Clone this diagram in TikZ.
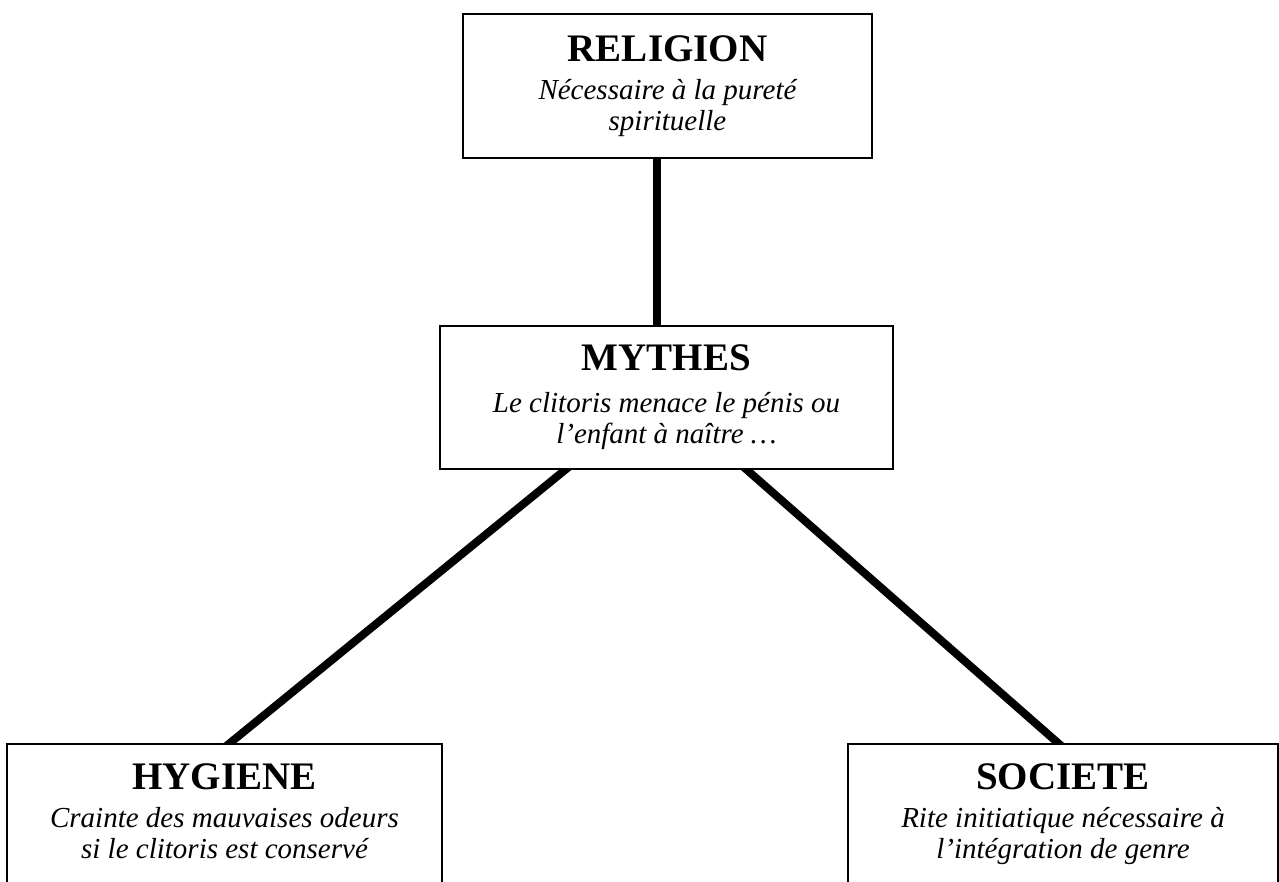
\documentclass[tikz,border=0pt]{standalone}
\usepackage{fontspec}
\setmainfont{Liberation Serif}
\usetikzlibrary{backgrounds}
\tikzset{
  themebox/.style = {draw, line width=2pt, fill=white, align=center, anchor=north,
                     inner sep=0pt, font=\fontsize{29}{31}\selectfont\itshape},
  link/.style     = {line width=8pt, shorten <=-6pt, shorten >=-6pt},
}
\newcommand{\themetitle}[2][7pt]{{\fontsize{39}{39}\selectfont\bfseries\upshape #2}\\[#1]}

\begin{document}
\begin{tikzpicture}[x=1pt,y=-1pt]
\useasboundingbox (0,0) rectangle (1279,882);
\clip (0,0) rectangle (1279,882);
\node[themebox, minimum width=409pt, minimum height=144pt] (religion) at (667.5,13)
  {\themetitle{RELIGION}Nécessaire à la pureté\\spirituelle};
\node[themebox, minimum width=453pt, minimum height=143pt] (mythes) at (666.5,325)
  {\themetitle[11pt]{MYTHES}Le clitoris menace le pénis ou\\l’enfant à naître …};
\node[themebox, minimum width=435pt, inner ysep=20pt] (hygiene) at (224.5,743)
  {\themetitle{HYGIENE}Crainte des mauvaises odeurs\\si le clitoris est conservé\rule[-60pt]{0pt}{0pt}};
\node[themebox, minimum width=430pt, inner ysep=20pt] (societe) at (1063,743)
  {\themetitle{SOCIETE}Rite initiatique nécessaire à\\l’intégration de genre\rule[-60pt]{0pt}{0pt}};
\begin{scope}[on background layer]
\draw[link] ([xshift=-11pt]religion.south) -- ([xshift=-10pt]mythes.north);
\draw[link] ([xshift=-101.5pt]mythes.south) -- ([xshift=5.5pt]hygiene.north);
\draw[link] ([xshift=80.5pt]mythes.south) -- ([xshift=-5pt]societe.north);
\end{scope}
\end{tikzpicture}
\end{document}
